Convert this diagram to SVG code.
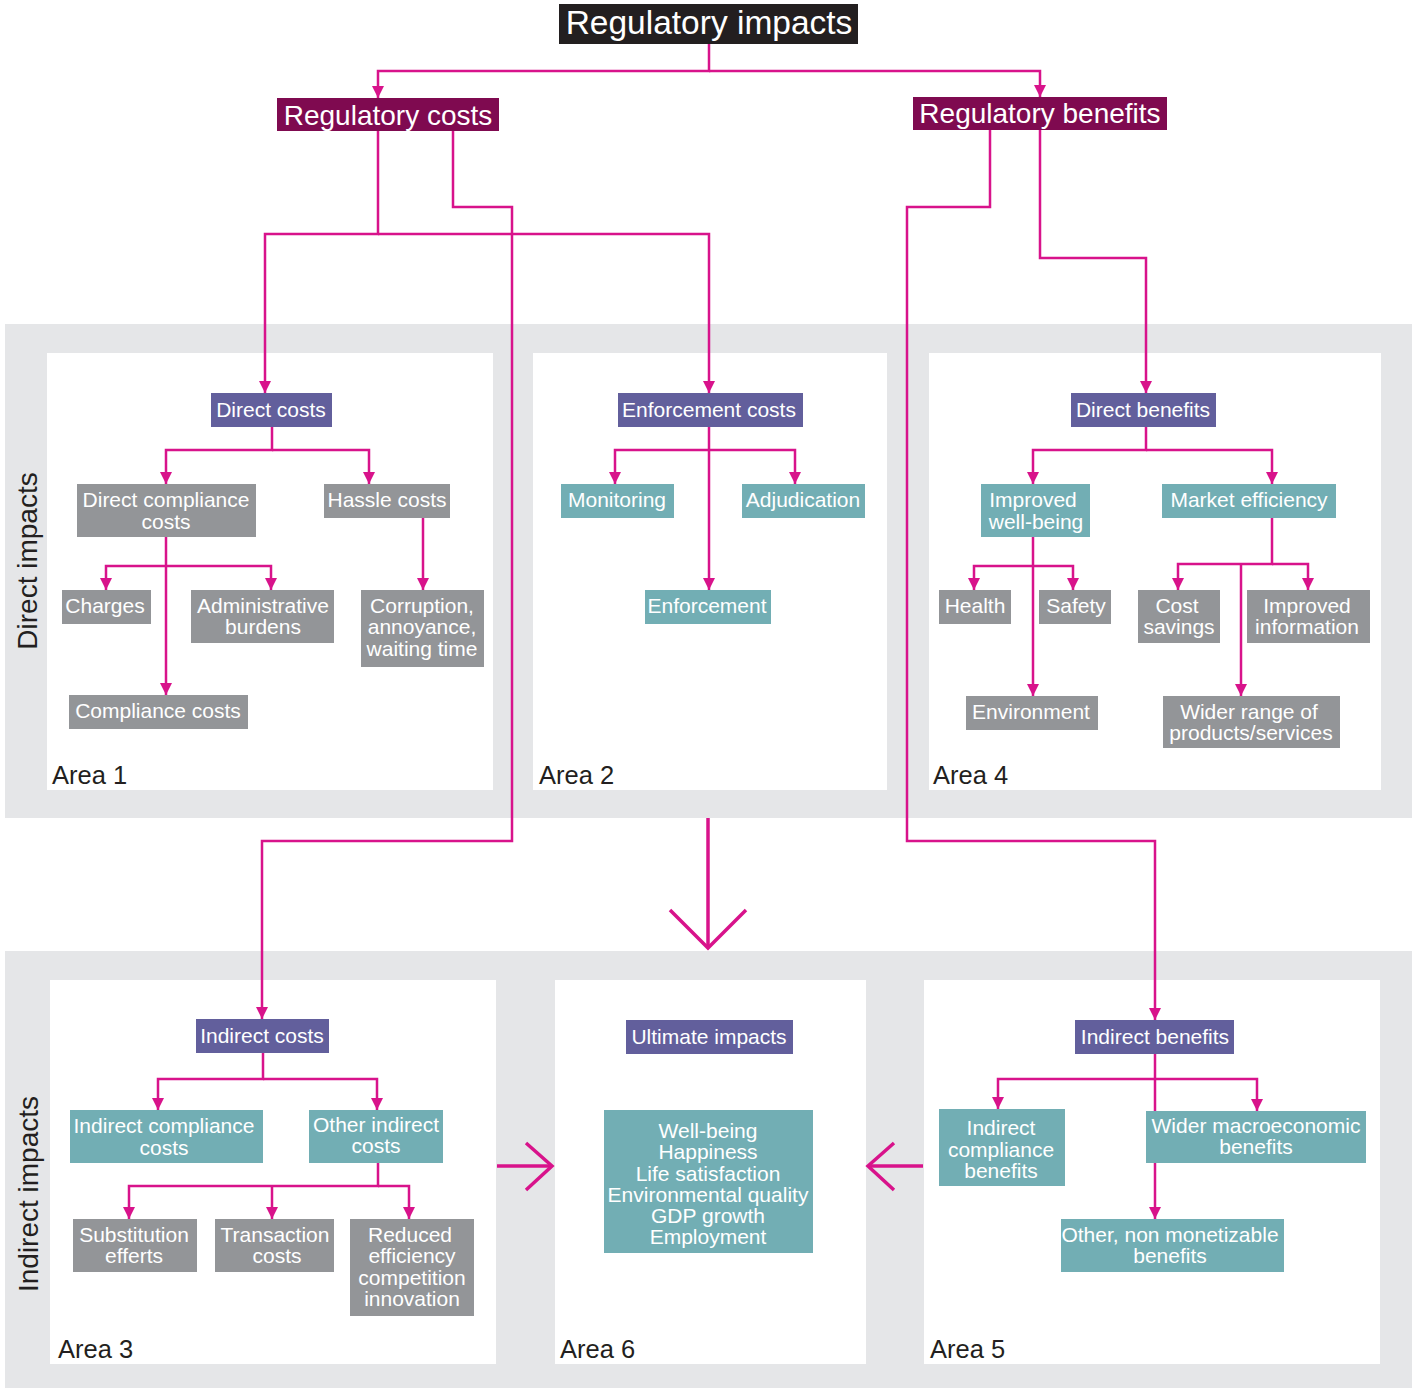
<svg xmlns="http://www.w3.org/2000/svg" width="1416" height="1388" viewBox="0 0 1416 1388">
<defs>
<style>
text{font-family:"Liberation Sans",Arial,Helvetica,sans-serif;}
.band{fill:#e5e6e8;}
.panel{fill:#ffffff;}
.title{fill:#231f20;}
.reg{fill:#7f0a50;}
.pur{fill:#625f9c;}
.teal{fill:#72aeb4;}
.gray{fill:#939598;}
.t{fill:#ffffff;font-size:21px;text-anchor:middle;}
.big{fill:#ffffff;font-size:28px;text-anchor:middle;}
.area{fill:#231f20;font-size:25.5px;}
.side{fill:#231f20;font-size:28px;text-anchor:middle;}
.c{fill:none;stroke:#d8138b;stroke-width:2.5;}
.ca{fill:none;stroke:#d8138b;stroke-width:2.5;marker-end:url(#ah);}
.bigarrow{fill:none;stroke:#d8138b;stroke-width:3.5;}
</style>
<marker id="ah" viewBox="0 0 12 12" refX="12" refY="6" markerWidth="12" markerHeight="12" markerUnits="userSpaceOnUse" orient="auto">
<path d="M0,0 L12,6 L0,12 z" fill="#d8138b"/>
</marker>
</defs>
<rect width="1416" height="1388" fill="#ffffff"/>
<g id="backgrounds">
<rect class="band" x="5" y="324" width="1407" height="494"/>
<rect class="band" x="5" y="951" width="1407" height="437"/>
<rect class="panel" x="47" y="353" width="446" height="437"/>
<rect class="panel" x="533" y="353" width="354" height="437"/>
<rect class="panel" x="929" y="353" width="452" height="437"/>
<rect class="panel" x="50" y="980" width="446" height="384"/>
<rect class="panel" x="555" y="980" width="311" height="384"/>
<rect class="panel" x="924" y="980" width="456" height="384"/>
<text class="side" transform="translate(37,561) rotate(-90)">Direct impacts</text>
<text class="side" transform="translate(38,1194) rotate(-90)">Indirect impacts</text>
<text class="area" x="52" y="784">Area 1</text>
<text class="area" x="539" y="784">Area 2</text>
<text class="area" x="933" y="784">Area 4</text>
<text class="area" x="58" y="1358">Area 3</text>
<text class="area" x="560" y="1358">Area 6</text>
<text class="area" x="930" y="1358">Area 5</text>
</g>
<g id="connectors">
<path class="ca" d="M709,44 V71 H378 V98"/>
<path class="ca" d="M709,71 H1040 V97"/>
<path class="ca" d="M378,131 V234 H265 V393"/>
<path class="ca" d="M378,234 H709 V393"/>
<path class="ca" d="M453,131 V207 H512 V841 H262 V1019"/>
<path class="ca" d="M990,130 V207 H907 V841 H1155 V1020"/>
<path class="ca" d="M1040,130 V258 H1146 V393"/>
<path class="ca" d="M272,427 V450 H166 V484"/>
<path class="ca" d="M272,450 H369 V484"/>
<path class="ca" d="M166,537 V695"/>
<path class="ca" d="M166,566 H106 V590"/>
<path class="ca" d="M166,566 H271 V590"/>
<path class="ca" d="M423,518 V590"/>
<path class="ca" d="M709,427 V590"/>
<path class="ca" d="M709,450 H615 V484"/>
<path class="ca" d="M709,450 H795 V484"/>
<path class="ca" d="M1146,427 V450 H1033 V484"/>
<path class="ca" d="M1146,450 H1272 V484"/>
<path class="ca" d="M1033,537 V696"/>
<path class="ca" d="M1033,566 H974 V590"/>
<path class="ca" d="M1033,566 H1073 V590"/>
<path class="ca" d="M1272,518 V564 H1178 V590"/>
<path class="ca" d="M1272,564 H1308 V590"/>
<path class="ca" d="M1241,564 V696"/>
<path class="ca" d="M263,1053 V1079 H158 V1110"/>
<path class="ca" d="M263,1079 H377 V1110"/>
<path class="ca" d="M378,1163 V1186 H129 V1219"/>
<path class="ca" d="M378,1186 H409 V1219"/>
<path class="ca" d="M272,1186 V1219"/>
<path class="ca" d="M1155,1054 V1219"/>
<path class="ca" d="M1155,1079 H998 V1109"/>
<path class="ca" d="M1155,1079 H1257 V1111"/>
<path class="bigarrow" d="M708,818 V948"/>
<path class="bigarrow" d="M670,910 L708,948 L746,910"/>
<path class="bigarrow" d="M497,1166 H552"/>
<path class="bigarrow" d="M526,1143 L552,1166 L526,1190"/>
<path class="bigarrow" d="M923,1166 H868"/>
<path class="bigarrow" d="M894,1143 L868,1166 L894,1190"/>
</g>
<g id="n-regulatory-impacts"><rect class="title" x="559" y="4" width="299" height="40"/><text class="big" x="709" y="34" style="font-size:33.5px">Regulatory impacts</text></g>
<g id="n-regulatory-costs"><rect class="reg" x="277" y="98" width="222" height="33"/><text class="big" x="388" y="125">Regulatory costs</text></g>
<g id="n-regulatory-benefits"><rect class="reg" x="913" y="97" width="254" height="33"/><text class="big" x="1040" y="123">Regulatory benefits</text></g>
<g id="n-direct-costs"><rect class="pur" x="211" y="393" width="121" height="34"/><text class="t" x="271" y="417">Direct costs</text></g>
<g id="n-direct-compliance-costs"><rect class="gray" x="77" y="484" width="179" height="53"/><text class="t" x="166" y="507">Direct compliance</text><text class="t" x="166" y="529">costs</text></g>
<g id="n-hassle-costs"><rect class="gray" x="324" y="484" width="126" height="34"/><text class="t" x="387" y="507">Hassle costs</text></g>
<g id="n-charges"><rect class="gray" x="62" y="590" width="89" height="34"/><text class="t" x="105" y="613">Charges</text></g>
<g id="n-administrative-burdens"><rect class="gray" x="191" y="590" width="143" height="53"/><text class="t" x="263" y="613">Administrative</text><text class="t" x="263" y="634">burdens</text></g>
<g id="n-corruption"><rect class="gray" x="361" y="590" width="123" height="77"/><text class="t" x="422" y="613">Corruption,</text><text class="t" x="422" y="634">annoyance,</text><text class="t" x="422" y="656">waiting time</text></g>
<g id="n-compliance-costs"><rect class="gray" x="69" y="695" width="179" height="34"/><text class="t" x="158" y="718">Compliance costs</text></g>
<g id="n-enforcement-costs"><rect class="pur" x="618" y="393" width="185" height="34"/><text class="t" x="709" y="417">Enforcement costs</text></g>
<g id="n-monitoring"><rect class="teal" x="561" y="484" width="113" height="34"/><text class="t" x="617" y="507">Monitoring</text></g>
<g id="n-adjudication"><rect class="teal" x="742" y="484" width="123" height="34"/><text class="t" x="803" y="507">Adjudication</text></g>
<g id="n-enforcement"><rect class="teal" x="645" y="590" width="126" height="34"/><text class="t" x="707" y="613">Enforcement</text></g>
<g id="n-direct-benefits"><rect class="pur" x="1071" y="393" width="145" height="34"/><text class="t" x="1143" y="417">Direct benefits</text></g>
<g id="n-improved-well-being"><rect class="teal" x="981" y="484" width="109" height="53"/><text class="t" x="1033" y="507">Improved</text><text class="t" x="1036" y="529">well-being</text></g>
<g id="n-market-efficiency"><rect class="teal" x="1162" y="484" width="174" height="34"/><text class="t" x="1249" y="507">Market efficiency</text></g>
<g id="n-health"><rect class="gray" x="939" y="590" width="72" height="34"/><text class="t" x="975" y="613">Health</text></g>
<g id="n-safety"><rect class="gray" x="1039" y="590" width="72" height="34"/><text class="t" x="1076" y="613">Safety</text></g>
<g id="n-environment"><rect class="gray" x="966" y="696" width="132" height="34"/><text class="t" x="1031" y="719">Environment</text></g>
<g id="n-cost-savings"><rect class="gray" x="1138" y="590" width="82" height="53"/><text class="t" x="1177" y="613">Cost</text><text class="t" x="1179" y="634">savings</text></g>
<g id="n-improved-information"><rect class="gray" x="1247" y="590" width="123" height="53"/><text class="t" x="1307" y="613">Improved</text><text class="t" x="1307" y="634">information</text></g>
<g id="n-wider-range"><rect class="gray" x="1163" y="696" width="177" height="52"/><text class="t" x="1249" y="719">Wider range of</text><text class="t" x="1251" y="740">products/services</text></g>
<g id="n-indirect-costs"><rect class="pur" x="196" y="1019" width="133" height="34"/><text class="t" x="262" y="1043">Indirect costs</text></g>
<g id="n-indirect-compliance-costs"><rect class="teal" x="70" y="1110" width="193" height="53"/><text class="t" x="164" y="1133">Indirect compliance</text><text class="t" x="164" y="1155">costs</text></g>
<g id="n-other-indirect-costs"><rect class="teal" x="309" y="1110" width="134" height="53"/><text class="t" x="376" y="1132">Other indirect</text><text class="t" x="376" y="1153">costs</text></g>
<g id="n-substitution-efferts"><rect class="gray" x="73" y="1219" width="124" height="53"/><text class="t" x="134" y="1242">Substitution</text><text class="t" x="134" y="1263">efferts</text></g>
<g id="n-transaction-costs"><rect class="gray" x="215" y="1219" width="119" height="53"/><text class="t" x="275" y="1242">Transaction</text><text class="t" x="277" y="1263">costs</text></g>
<g id="n-reduced-efficiency"><rect class="gray" x="350" y="1219" width="124" height="97"/><text class="t" x="410" y="1242">Reduced</text><text class="t" x="412" y="1263">efficiency</text><text class="t" x="412" y="1285">competition</text><text class="t" x="412" y="1306">innovation</text></g>
<g id="n-ultimate-impacts"><rect class="pur" x="626" y="1020" width="167" height="34"/><text class="t" x="709" y="1044">Ultimate impacts</text></g>
<g id="n-well-being-list"><rect class="teal" x="604" y="1110" width="209" height="143"/><text class="t" x="708" y="1138">Well-being</text><text class="t" x="708" y="1159">Happiness</text><text class="t" x="708" y="1181">Life satisfaction</text><text class="t" x="708" y="1202">Environmental quality</text><text class="t" x="708" y="1223">GDP growth</text><text class="t" x="708" y="1244">Employment</text></g>
<g id="n-indirect-benefits"><rect class="pur" x="1075" y="1020" width="159" height="34"/><text class="t" x="1155" y="1044">Indirect benefits</text></g>
<g id="n-indirect-compliance-benefits"><rect class="teal" x="939" y="1109" width="126" height="77"/><text class="t" x="1001" y="1135">Indirect</text><text class="t" x="1001" y="1157">compliance</text><text class="t" x="1001" y="1178">benefits</text></g>
<g id="n-wider-macroeconomic-benefits"><rect class="teal" x="1146" y="1111" width="220" height="52"/><text class="t" x="1256" y="1133">Wider macroeconomic</text><text class="t" x="1256" y="1154">benefits</text></g>
<g id="n-other-non-monetizable"><rect class="teal" x="1061" y="1219" width="223" height="53"/><text class="t" x="1170" y="1242">Other, non monetizable</text><text class="t" x="1170" y="1263">benefits</text></g>
</svg>
